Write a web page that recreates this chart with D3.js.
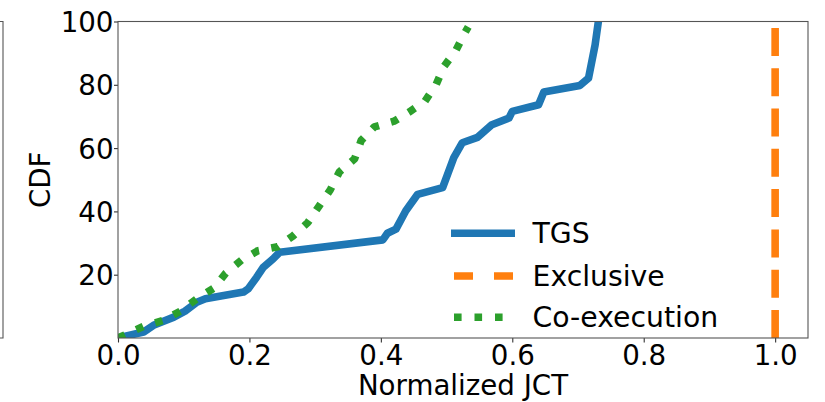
<!DOCTYPE html>
<html>
<head>
<meta charset="utf-8">
<script src="https://cdn.jsdelivr.net/npm/d3@7"></script>
<style>
  html, body { margin: 0; padding: 0; background: #fff; }
  svg { display: block; }
  text { font-family: "DejaVu Sans", sans-serif; fill: #000; }
</style>
</head>
<body>
<svg id="chart" width="825" height="402"></svg>
<script>
// ---- data ----
const tgsX = [0, 0.039, 0.054, 0.085, 0.102, 0.120, 0.133, 0.191, 0.198, 0.211, 0.221, 0.236, 0.246, 0.403, 0.410, 0.423, 0.438, 0.456, 0.494, 0.511, 0.524, 0.547, 0.569, 0.595, 0.600, 0.640, 0.648, 0.703, 0.716, 0.726, 0.731];
const tgsY = [0, 1.9, 4.0, 6.6, 8.5, 11.3, 12.4, 14.5, 15.5, 19.2, 22.3, 25.0, 27.1, 31.0, 33.1, 34.4, 40.2, 45.4, 47.5, 57.0, 61.7, 63.4, 67.4, 69.5, 71.6, 73.7, 77.7, 79.8, 82.1, 92.6, 100];
const exclusiveX = [1.0, 1.0];
const exclusiveY = [0, 100];
const coX = [0, 0.039, 0.068, 0.095, 0.120, 0.146, 0.164, 0.188, 0.213, 0.243, 0.266, 0.289, 0.306, 0.323, 0.337, 0.360, 0.370, 0.390, 0.420, 0.443, 0.467, 0.484, 0.496, 0.514, 0.528, 0.533];
const coY = [0, 3.7, 5.5, 8.5, 12.4, 15.8, 20.5, 24.6, 27.6, 28.8, 32.2, 36.5, 41.7, 46.8, 52.5, 56.6, 62.4, 66.7, 68.5, 71.4, 74.8, 80.0, 85.8, 90.8, 96.5, 98.3];
const seriesNames = ["TGS", "Exclusive", "Co-execution"];
const xTicks = [0, 0.2, 0.4, 0.6, 0.8, 1.0];
const yTicks = [20, 40, 60, 80, 100];
const xLabel = "Normalized JCT";
const yLabel = "CDF";

// ---- layout ----
const L = 118, R = 808, T = 21.5, B = 338;
const FS = 27.7;
const LFS = 28.3;
const LW = 7.6;
const colors = ["#1f77b4", "#ff7f0e", "#2ca02c"];
const dashes = [null, "28,12.3", "7.6,12.5"];

const svg = d3.select("#chart");
const x = d3.scaleLinear().domain([0, 1.05]).range([L, R]);
const y = d3.scaleLinear().domain([0, 100]).range([B, T]);

// fragment of neighbouring subplot frame at far left
svg.append("path")
  .attr("d", `M-5,${T}H3V${B}H-5`)
  .attr("fill", "none").attr("stroke", "#555").attr("stroke-width", 1.1);

svg.append("clipPath").attr("id", "clip")
  .append("rect").attr("x", L).attr("y", T).attr("width", R - L).attr("height", B - T);

const plot = svg.append("g").attr("clip-path", "url(#clip)");
const line = d3.line().x(d => x(d[0])).y(d => y(d[1]));

const series = [
  d3.zip(tgsX, tgsY),
  d3.zip(exclusiveX, exclusiveY),
  d3.zip(coX, coY)
];

series.forEach((pts, i) => {
  const p = plot.append("path")
    .attr("d", line(pts))
    .attr("fill", "none")
    .attr("stroke", colors[i])
    .attr("stroke-width", LW)
    .attr("stroke-linejoin", "round");
  if (dashes[i]) p.attr("stroke-dasharray", dashes[i]).attr("stroke-linecap", "butt");
  else p.attr("stroke-linecap", "square");
});

// axes
const xAxis = d3.axisBottom(x).tickValues(xTicks).tickFormat(d3.format(".1f"))
  .tickSize(4.5).tickSizeOuter(0).tickPadding(3);
const yAxis = d3.axisLeft(y).tickValues(yTicks).tickFormat(d3.format("d"))
  .tickSize(4).tickSizeOuter(0).tickPadding(0.5);

const gx = svg.append("g").attr("transform", `translate(0,${B})`).call(xAxis);
const gy = svg.append("g").attr("transform", `translate(${L},0)`).call(yAxis);
[gx, gy].forEach(g => {
  g.select(".domain").remove();
  g.selectAll(".tick line").attr("stroke", "#333").attr("stroke-width", 1.1);
  g.selectAll(".tick text").style("font-size", FS + "px").style("font-family", "DejaVu Sans").attr("fill", "#000");
});
gy.selectAll(".tick text").attr("dy", "0.36em");

// frame
svg.append("rect")
  .attr("x", L).attr("y", T).attr("width", R - L).attr("height", B - T)
  .attr("fill", "none").attr("stroke", "#555").attr("stroke-width", 1.1);

// axis labels
svg.append("text")
  .attr("x", (L + R) / 2).attr("y", 394.5)
  .attr("text-anchor", "middle")
  .style("font-size", FS + "px")
  .text(xLabel);
svg.append("text")
  .attr("transform", `translate(50,${(T + B) / 2}) rotate(-90)`)
  .attr("text-anchor", "middle")
  .style("font-size", FS + "px")
  .text(yLabel);

// legend
const legY = [233.3, 276, 317.3];
const leg = svg.append("g");
seriesNames.forEach((name, i) => {
  const ln = leg.append("line")
    .attr("x1", i === 0 ? 451 : 454).attr("x2", 515)
    .attr("y1", legY[i]).attr("y2", legY[i])
    .attr("stroke", colors[i]).attr("stroke-width", LW)
    .attr("stroke-linecap", "butt");
  if (i === 1) ln.attr("stroke-dasharray", "19,21");
  if (i === 2) ln.attr("stroke-dasharray", "7.6,12.9");
  leg.append("text")
    .attr("x", 532.5).attr("y", legY[i]).attr("dy", "0.36em")
    .style("font-size", LFS + "px")
    .text(name);
});
</script>
</body>
</html>
